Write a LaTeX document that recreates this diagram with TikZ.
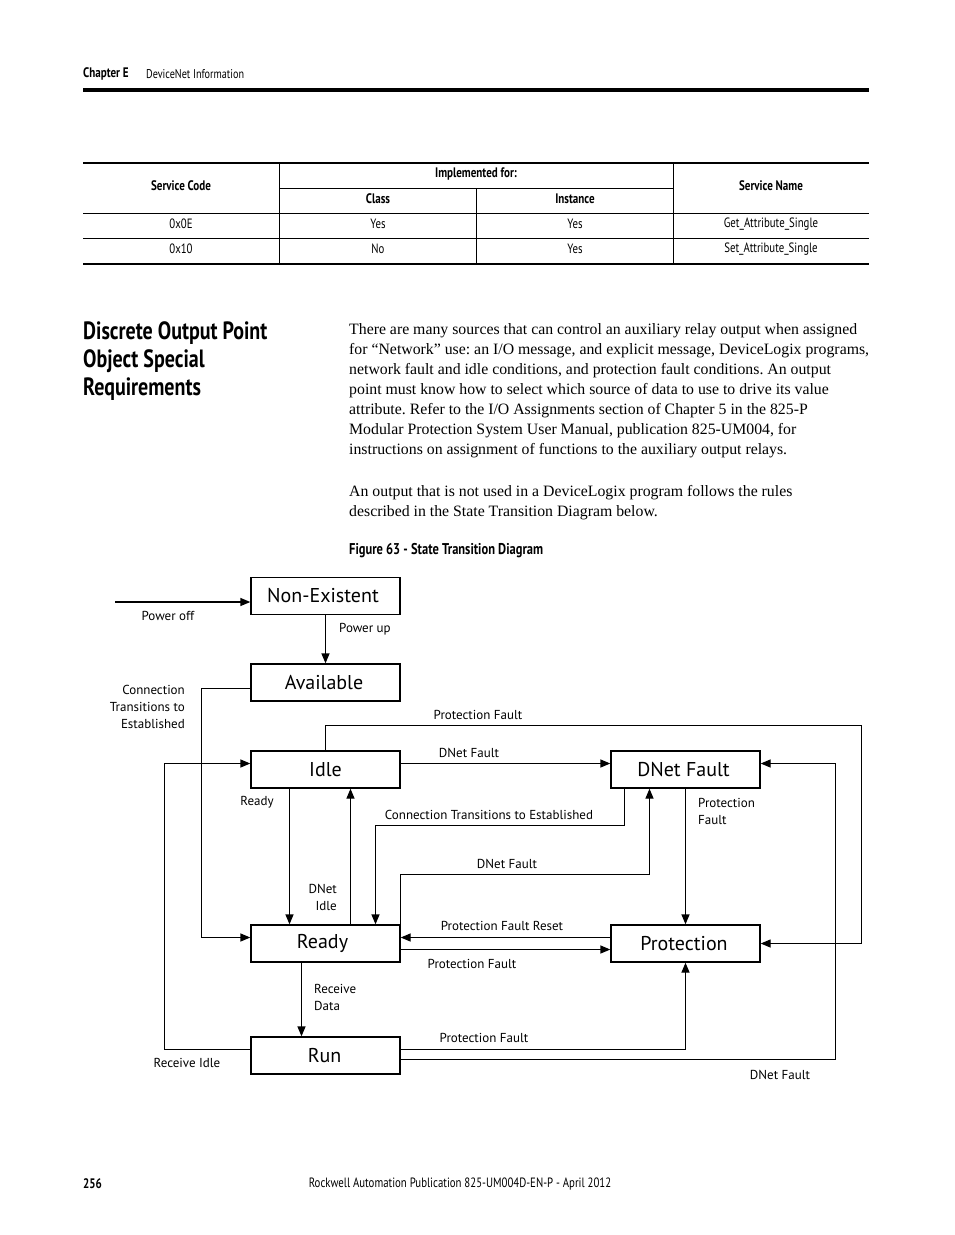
\documentclass[tikz,border=0pt]{standalone}
\usepackage{fontspec}
\setmainfont{Liberation Serif}
\newfontfamily\diafont{PT Sans}
\newfontfamily\condfont[FakeStretch=0.8]{PT Sans}
\usetikzlibrary{arrows.meta}
\frenchspacing

\tikzset{
	statebox/.style={draw,line width=1.3pt,minimum width=149pt,minimum height=37pt,inner sep=0pt,font=\diafont\fontsize{20}{22}\selectfont},
	lbl/.style={inner sep=0pt,font=\diafont\fontsize{13}{17}\selectfont},
	trans/.style={line width=1.3pt,-{Triangle[length=10pt,width=8pt]}},
	cell/.style={inner sep=0pt,font=\condfont\fontsize{13.5}{15}\selectfont},
	headcell/.style={inner sep=0pt,font=\condfont\bfseries\fontsize{13.8}{15}\selectfont}
}

\begin{document}
\begin{tikzpicture}[x=1pt,y=-1pt]
		\useasboundingbox (0,0) rectangle (954,1235);
		% page header
		\node[anchor=west,headcell] (chap) at (83,74) {Chapter E};
		\node[anchor=west,cell,font=\condfont\fontsize{12.7}{15}\selectfont] (chaptitle) at (146,74) {DeviceNet Information};
		\draw[line width=3.5pt] (83,90) -- (869,90);
		% service table
		\draw[line width=1.5pt] (83,163) -- (869,163);
		\draw[line width=0.8pt] (279,188) -- (673,188);
		\draw[line width=0.8pt] (83,213) -- (869,213);
		\draw[line width=0.8pt] (83,238) -- (869,238);
		\draw[line width=1.8pt] (83,264) -- (869,264);
		\draw[line width=0.8pt] (279,163) -- (279,264);
		\draw[line width=0.8pt] (476,188) -- (476,264);
		\draw[line width=0.8pt] (673,163) -- (673,264);
		\node[headcell] (hcode) at (181,186) {Service Code};
		\node[headcell] (himpl) at (476,174) {Implemented for:};
		\node[headcell] (hclass) at (378,199) {Class};
		\node[headcell] (hinst) at (575,199) {Instance};
		\node[headcell] (hname) at (771,186) {Service Name};
		\node[cell] (codea) at (181,224) {0x0E};
		\node[cell] (classa) at (378,224) {Yes};
		\node[cell] (insta) at (575,224) {Yes};
		\node[cell] (namea) at (771,224) {Get\_Attribute\_Single};
		\node[cell] (codeb) at (181,249) {0x10};
		\node[cell] (classb) at (378,249) {No};
		\node[cell] (instb) at (575,249) {Yes};
		\node[cell] (nameb) at (771,249) {Set\_Attribute\_Single};
		% section heading and text
		\node[anchor=north west,inner sep=0pt,align=left,font=\condfont\bfseries\fontsize{25}{28}\selectfont] (heading) at (83,321) {Discrete Output Point\\Object Special\\Requirements};
		\node[anchor=north west,inner sep=0pt,align=left,font=\fontsize{15.8}{20}\selectfont] (bodya) at (349,323.5) {There are many sources that can control an auxiliary relay output when assigned\\for ``Network'' use: an I/O message, and explicit message, DeviceLogix programs,\\network fault and idle conditions, and protection fault conditions. An output\\point must know how to select which source of data to use to drive its value\\attribute. Refer to the I/O Assignments section of Chapter 5 in the 825-P\\Modular Protection System User Manual, publication 825-UM004, for\\instructions on assignment of functions to the auxiliary output relays.};
		\node[anchor=north west,inner sep=0pt,align=left,font=\fontsize{15.8}{20}\selectfont] (bodyb) at (349,485.5) {An output that is not used in a DeviceLogix program follows the rules\\described in the State Transition Diagram below.};
		\node[anchor=west,headcell,font=\condfont\bfseries\fontsize{15.6}{17}\selectfont] (caption) at (349,551) {Figure 63 - State Transition Diagram};
		% states
		\node[statebox] (nonex) at (325.5,596) {Non-Existent\hspace*{5pt}};
		\node[statebox] (avail) at (325.5,682.5) {Available\hspace*{3pt}};
		\node[statebox] (idle) at (325.5,769.5) {Idle};
		\node[statebox] (dnf) at (685.5,769.5) {DNet Fault\hspace*{4pt}};
		\node[statebox] (ready) at (325.5,943.5) {Ready\hspace*{6pt}};
		\node[statebox] (prot) at (685.5,943.5) {Protection\hspace*{3pt}};
		\node[statebox] (run) at (325.5,1055.5) {Run\hspace*{2pt}};
		\coordinate (pwroff) at (115,602);
		% transitions
		\draw[trans] (pwroff) -- ([yshift=-6pt]nonex.west);
		\draw[trans] (nonex.south) -- (avail.north);
		\draw[trans] ([yshift=-6pt]avail.west) -- ++(-49,0) |- ([yshift=6pt]ready.west);
		\draw[trans] ([yshift=6pt]idle.east) -- ([yshift=6pt]dnf.west);
		\draw[trans] (idle.north) -- ++(0,-25) -| ([xshift=101pt]prot.east) -- (prot.east);
		\draw[trans] ([yshift=-4pt]run.east) -- ++(435,0) |- ([yshift=6pt]dnf.east);
		\draw[trans] ([xshift=-36pt]idle.south) -- ([xshift=-36pt]ready.north);
		\draw[trans] ([xshift=25pt]ready.north) -- ([xshift=25pt]idle.south);
		\draw[trans] ([xshift=-61pt]dnf.south) -- ++(0,37) -| ([xshift=50pt]ready.north);
		\draw[trans] (ready.north east) -- ++(0,-50) -| ([xshift=-36pt]dnf.south);
		\draw[trans] (dnf.south) -- (prot.north);
		\draw[trans] ([yshift=6pt]prot.west) -- ([yshift=6pt]ready.east);
		\draw[trans] ([yshift=-6pt]ready.east) -- ([yshift=-6pt]prot.west);
		\draw[trans] ([xshift=-24pt]ready.south) -- ([xshift=-24pt]run.north);
		\draw[trans] ([yshift=6pt]run.east) -| (prot.south);
		\draw[trans] ([yshift=6pt]run.west) -- ++(-86,0) |- ([yshift=6pt]idle.west);
		% labels
		\node[lbl] (lpoweroff) at (168,616) {Power off};
		\node[lbl,anchor=west] (lpowerup) at (339,629) {Power up};
		\node[lbl,anchor=east,align=right] (lconnest) at (185,707) {Connection\\Transitions to\\Established};
		\node[lbl] (lprotfa) at (478,715) {Protection Fault};
		\node[lbl] (ldnfa) at (469,753) {DNet Fault};
		\node[lbl] (lready) at (257,802) {Ready};
		\node[lbl] (lconnestb) at (489,815) {Connection Transitions to Established};
		\node[lbl,anchor=west,align=left] (lprotfb) at (698,811) {Protection\\Fault};
		\node[lbl] (ldnfb) at (507,864) {DNet Fault};
		\node[lbl,anchor=east,align=right] (ldnidle) at (337,897.5) {DNet\\Idle};
		\node[lbl] (lreset) at (502,926) {Protection Fault Reset};
		\node[lbl] (lprotfc) at (472,964) {Protection Fault};
		\node[lbl,anchor=west,align=left] (lrecdata) at (314,997.5) {Receive\\Data};
		\node[lbl] (lprotfd) at (484,1038) {Protection Fault};
		\node[lbl] (lrecidle) at (187,1063) {Receive Idle};
		\node[lbl] (ldnfc) at (780,1075) {DNet Fault};
		% page footer
		\node[anchor=west,headcell] (pageno) at (83,1184) {256};
		\node[cell] (footer) at (460,1184) {Rockwell Automation Publication 825-UM004D-EN-P - April 2012};
\end{tikzpicture}
\end{document}
